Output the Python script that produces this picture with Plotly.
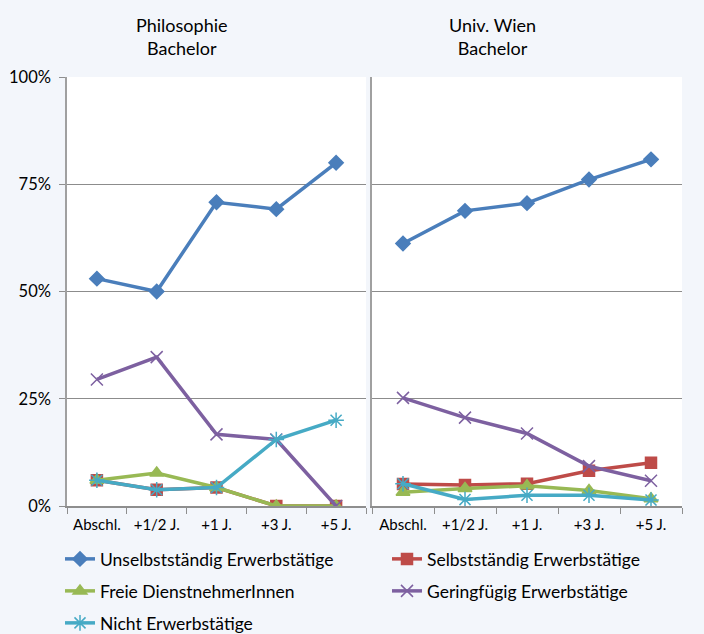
import plotly.graph_objects as go

categories = ["Abschl.", "+1/2 J.", "+1 J.", "+3 J.", "+5 J."]
series_names = ["Unselbstständig Erwerbstätige", "Selbstständig Erwerbstätige",
                "Freie DienstnehmerInnen", "Geringfügig Erwerbstätige",
                "Nicht Erwerbstätige"]

phil_unselbst = [53.0, 50.0, 70.8, 69.2, 80.0]
phil_selbst = [6.0, 3.8, 4.3, 0.0, 0.0]
phil_freie = [6.0, 7.7, 4.3, 0.0, 0.0]
phil_gering = [29.5, 34.7, 16.7, 15.5, 0.0]
phil_nicht = [6.0, 3.8, 4.3, 15.5, 20.0]

wien_unselbst = [61.2, 68.8, 70.6, 76.1, 80.8]
wien_selbst = [5.1, 4.9, 5.2, 8.2, 10.1]
wien_freie = [3.2, 4.1, 4.7, 3.6, 1.7]
wien_gering = [25.2, 20.6, 16.9, 9.3, 5.9]
wien_nicht = [5.2, 1.5, 2.5, 2.5, 1.4]

colors = ["#4A7EBB", "#BE4B48", "#98B954", "#7D60A0", "#46AAC5"]
symbols = ["diamond", "square", "triangle-up", "x-thin-open", "asterisk-open"]
msizes = [11, 11, 12, 12, 13]
legends = ["legend", "legend", "legend2", "legend2", "legend3"]

phil = [phil_unselbst, phil_selbst, phil_freie, phil_gering, phil_nicht]
wien = [wien_unselbst, wien_selbst, wien_freie, wien_gering, wien_nicht]

FONT = "Lato"
TICKSIZE = 16.5
fig = go.Figure()

for i in range(5):
    mk = dict(symbol=symbols[i], size=msizes[i], color=colors[i],
              line=dict(color=colors[i], width=1.5))
    fig.add_trace(go.Scatter(x=categories, y=phil[i], name=series_names[i],
                             mode="lines+markers", line=dict(color=colors[i], width=3.5),
                             marker=mk, xaxis="x", yaxis="y", legend=legends[i]))
    fig.add_trace(go.Scatter(x=categories, y=wien[i], name=series_names[i],
                             mode="lines+markers", line=dict(color=colors[i], width=3.5),
                             marker=mk, xaxis="x2", yaxis="y2", showlegend=False))

W, H = 704, 634
def px(x):
    return x / W
def py(y):
    return 1 - y / H

xcommon = dict(type="category", tickson="boundaries", ticks="outside", ticklen=6,
               tickcolor="#8E8E8E", showline=True, linecolor="#8E8E8E", linewidth=1.5,
               showgrid=False, tickfont=dict(family=FONT, size=15, color="#000"),
               tickangle=0, ticklabelstandoff=4,
               range=[-0.5, 4.5], fixedrange=True, automargin=False)
ycommon = dict(range=[0, 100], tickvals=[0, 25, 50, 75, 100], showgrid=True,
               gridcolor="#8C8C8C", gridwidth=1.2, showline=True, linecolor="#A0A0A0",
               linewidth=1.5, zeroline=False, fixedrange=True, automargin=False)

fig.update_layout(
    width=W, height=H,
    margin=dict(l=0, r=0, t=0, b=0, autoexpand=False),
    paper_bgcolor="#F3F6FB",
    plot_bgcolor="#FFFFFF",
    font=dict(family=FONT, size=TICKSIZE, color="#000"),
    xaxis=dict(domain=[px(67), px(366)], anchor="y", **xcommon),
    xaxis2=dict(domain=[px(372), px(682)], anchor="y2", **xcommon),
    yaxis=dict(domain=[py(506), py(77)], anchor="x", ticks="outside", ticklen=6,
               tickcolor="#8E8E8E", ticktext=["0%", "25%", "50%", "75%", "100%"],
               tickmode="array", ticklabelstandoff=5,
               tickfont=dict(family=FONT, size=TICKSIZE, color="#000"), **ycommon),
    yaxis2=dict(domain=[py(506), py(77)], anchor="x2", showticklabels=False, **ycommon),
    annotations=[
        dict(text="Philosophie<br>Bachelor", x=px(182), y=py(37), xref="paper", yref="paper",
             showarrow=False, font=dict(family=FONT, size=18), xanchor="center", yanchor="middle"),
        dict(text="Univ. Wien<br>Bachelor", x=px(492), y=py(37), xref="paper", yref="paper",
             showarrow=False, font=dict(family=FONT, size=18), xanchor="center", yanchor="middle"),
    ],
)

legcommon = dict(orientation="h", entrywidth=282, entrywidthmode="pixels",
                 bgcolor="rgba(0,0,0,0)", font=dict(family=FONT, size=17.5, color="#000"),
                 xanchor="left", yanchor="middle", itemclick=False, itemdoubleclick=False,
                 xref="container", yref="container")
fig.update_layout(
    legend=dict(x=px(60), y=py(559), **legcommon),
    legend2=dict(x=px(60), y=py(591), **legcommon),
    legend3=dict(x=px(60), y=py(623), **legcommon),
)

fig.write_html("out.html", config={"displayModeBar": False})
with open("out.html", "r", encoding="utf-8") as f:
    html = f.read()
html = html.replace("<head>", "<head><style>html,body{margin:0;padding:0;overflow:hidden;}</style>", 1)
with open("out.html", "w", encoding="utf-8") as f:
    f.write(html)
